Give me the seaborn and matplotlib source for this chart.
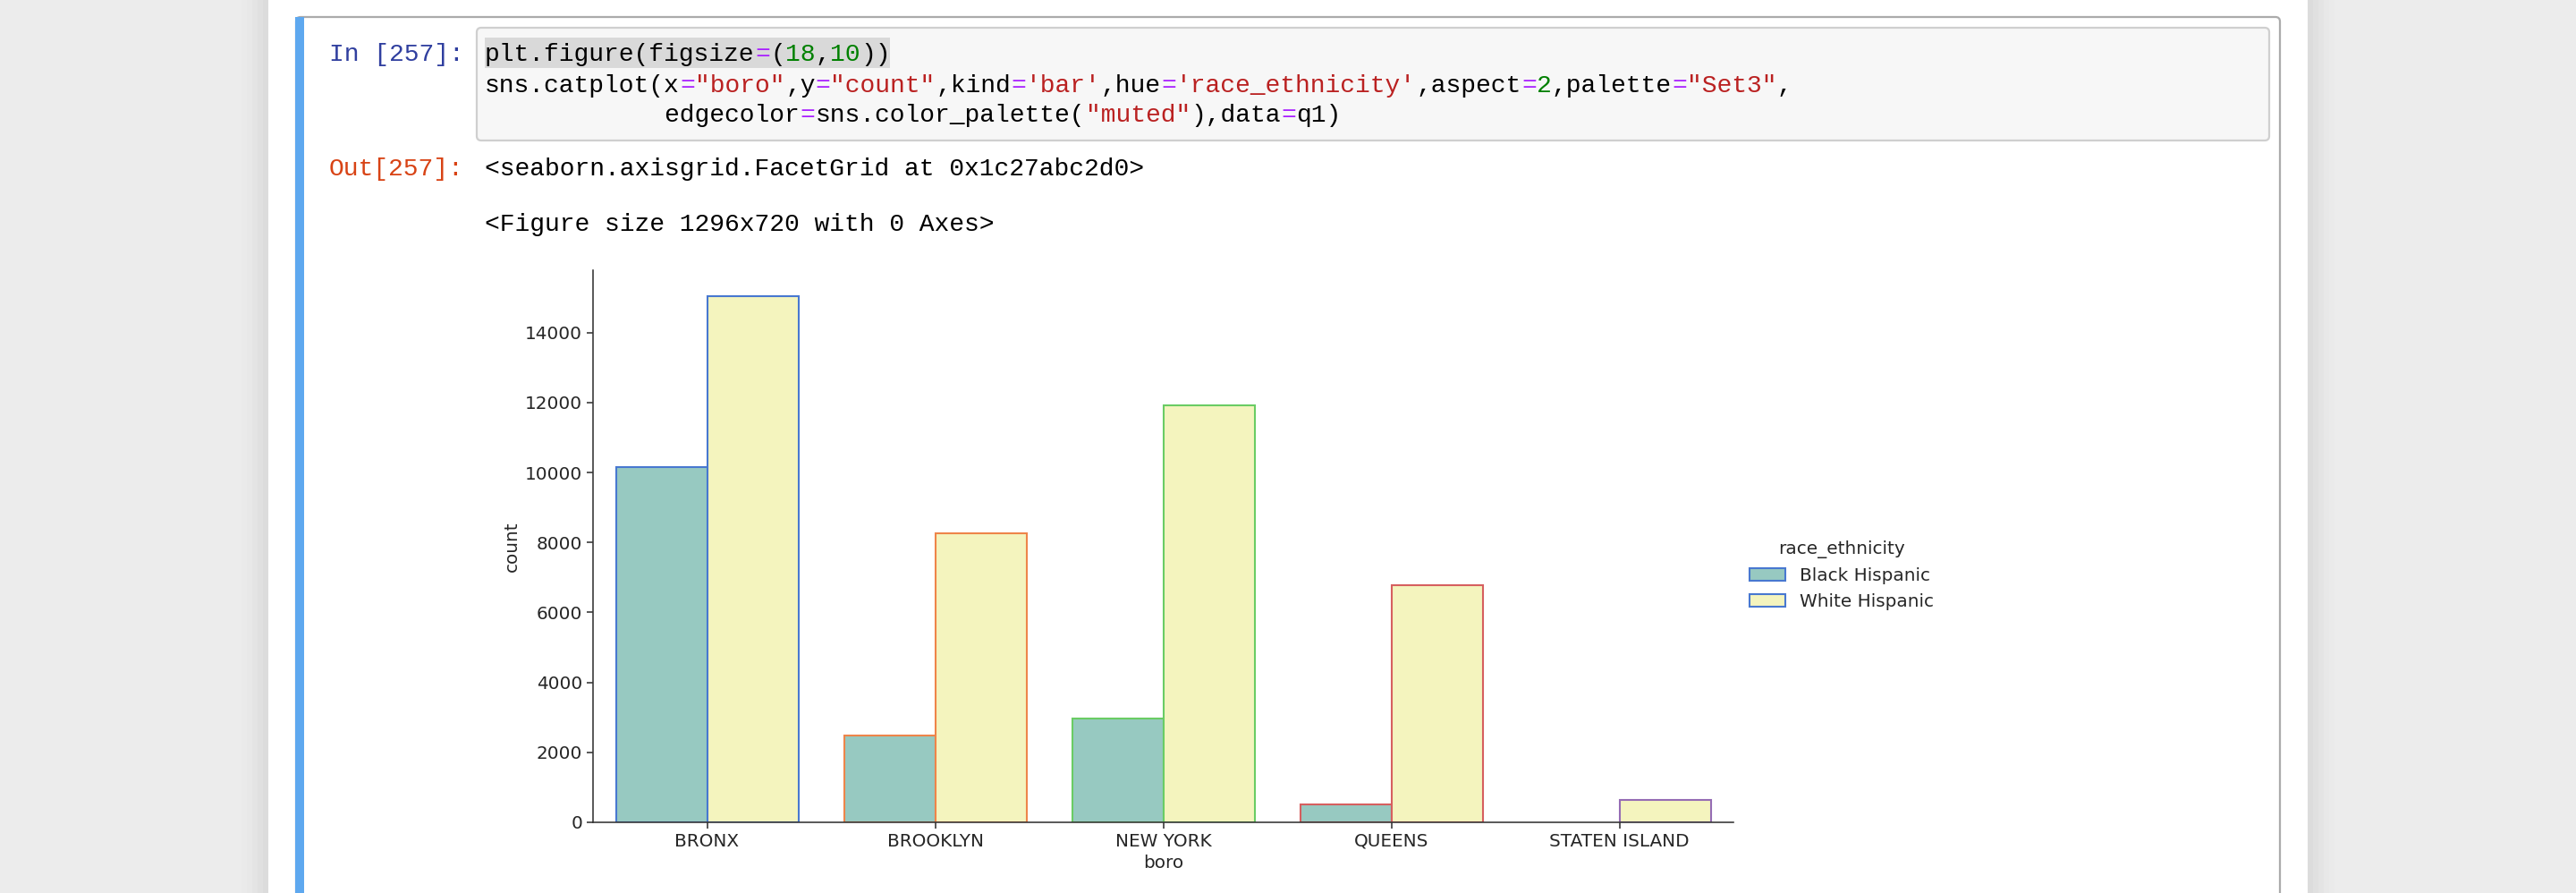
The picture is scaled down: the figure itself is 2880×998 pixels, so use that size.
import numpy as np
import pandas as pd
import seaborn as sns
import matplotlib.pyplot as plt
from matplotlib.patches import Rectangle, FancyBboxPatch

# chart data
boros = ["BRONX", "BROOKLYN", "NEW YORK", "QUEENS", "STATEN ISLAND"]
groups = ["Black Hispanic", "White Hispanic"]
black_boros = ["BRONX", "BROOKLYN", "NEW YORK", "QUEENS"]  # no Staten Island row
black_counts = [10150, 2490, 2960, 500]
white_counts = [15030, 8270, 11930, 6790, 650]

q1 = pd.DataFrame({
    "boro": black_boros + boros,
    "race_ethnicity": [groups[0]] * len(black_boros) + [groups[1]] * len(boros),
    "count": black_counts + white_counts,
})

# notebook cell text
prompt_in = "In [257]:"
prompt_out = "Out[257]:"
code_lines = [
    [("plt.figure(figsize", "k"), ("=", "op"), ("(", "k"), ("18", "num"), (",", "k"),
     ("10", "num"), ("))", "k")],
    [("sns.catplot(x", "k"), ("=", "op"), ('"boro"', "str"), (",y", "k"), ("=", "op"),
     ('"count"', "str"), (",kind", "k"), ("=", "op"), ("'bar'", "str"), (",hue", "k"),
     ("=", "op"), ("'race_ethnicity'", "str"), (",aspect", "k"), ("=", "op"), ("2", "num"),
     (",palette", "k"), ("=", "op"), ('"Set3"', "str"), (",", "k")],
    [("            edgecolor", "k"), ("=", "op"), ("sns.color_palette(", "k"),
     ('"muted"', "str"), ("),data", "k"), ("=", "op"), ("q1)", "k")],
]
out_lines = ["<seaborn.axisgrid.FacetGrid at 0x1c27abc2d0>",
             "<Figure size 1296x720 with 0 Axes>"]
tok_colors = {"k": "#000000", "op": "#aa22ff", "num": "#008000", "str": "#ba2121"}

W, H = 2880, 998
fig = plt.figure(figsize=(W / 100, H / 100), dpi=100, facecolor="#ececec")

# background axes in pixel coordinates for the notebook chrome
bg = fig.add_axes([0, 0, 1, 1])
bg.set_xlim(0, W)
bg.set_ylim(H, 0)
bg.axis("off")

bg.add_patch(Rectangle((300, 0), 2280, H, fc="white", ec="none"))
for i, c in enumerate(["#dcdcdc", "#e0e0e0", "#e4e4e4", "#e8e8e8", "#eaeaea"]):
    bg.add_patch(Rectangle((300 - 6 * (i + 1), 0), 6, H, fc=c, ec="none"))
    bg.add_patch(Rectangle((2580 + 6 * i, 0), 6, H, fc=c, ec="none"))

bg.add_patch(FancyBboxPatch((331, 19), 2549 - 331, 1100,
                            boxstyle="round,pad=0,rounding_size=5",
                            fc="white", ec="#ababab", lw=1.6))
bg.add_patch(Rectangle((330, 19), 10, H, fc="#5ea8ef", ec="none"))
bg.add_patch(FancyBboxPatch((533, 31), 2537 - 533, 157 - 31,
                            boxstyle="round,pad=0,rounding_size=5",
                            fc="#f7f7f7", ec="#cfcfcf", lw=1.6))
bg.add_patch(Rectangle((542, 42), 453, 34, fc="#d9d9d9", ec="none"))

mono = dict(family="Liberation Mono", fontsize=20.16, va="baseline")
cw = 16.8  # px per character
bg.text(368, 68, prompt_in, color="#303f9f", **mono)
for base, line in zip([68, 103, 136], code_lines):
    x = 542
    for seg, kind in line:
        bg.text(x, base, seg, color=tok_colors[kind], **mono)
        x += len(seg) * cw
bg.text(368, 196, prompt_out, color="#d84315", **mono)
bg.text(542, 196, out_lines[0], color="black", **mono)
bg.text(542, 258, out_lines[1], color="black", **mono)

# the seaborn chart
muted = sns.color_palette("muted")
ax = fig.add_axes([663 / W, 1 - 919 / H, (1938 - 663) / W, (919 - 302) / H])
ax.set_facecolor("white")
sns.barplot(data=q1, x="boro", y="count", hue="race_ethnicity", order=boros,
            hue_order=groups, palette="Set3", saturation=0.72, errorbar=None,
            linewidth=1.5, edgecolor=muted[0], ax=ax)
for cont in ax.containers:
    for bar in cont:
        i = int(round(bar.get_x() + bar.get_width() / 2))
        bar.set_edgecolor(muted[i])

sns.despine(ax=ax)
for s in ["left", "bottom"]:
    ax.spines[s].set_linewidth(1.15)
    ax.spines[s].set_color("#333333")
ax.tick_params(labelsize=14.4, length=5, width=1.15, colors="#333333",
               labelcolor="#262626")
ax.set_xlabel("boro", fontsize=14.4, color="#262626")
ax.set_ylabel("count", fontsize=14.4, color="#262626")

sns.move_legend(ax, "center left", bbox_to_anchor=(1.0, 0.447), frameon=False,
                title="race_ethnicity", fontsize=14.4, title_fontsize=14.4)
leg = ax.get_legend()
for h in leg.legend_handles:
    h.set_edgecolor(muted[0])
    h.set_linewidth(1.5)
for t in leg.get_texts():
    t.set_color("#262626")
leg.get_title().set_color("#262626")

fig.savefig("out.png", dpi=100, facecolor=fig.get_facecolor())
